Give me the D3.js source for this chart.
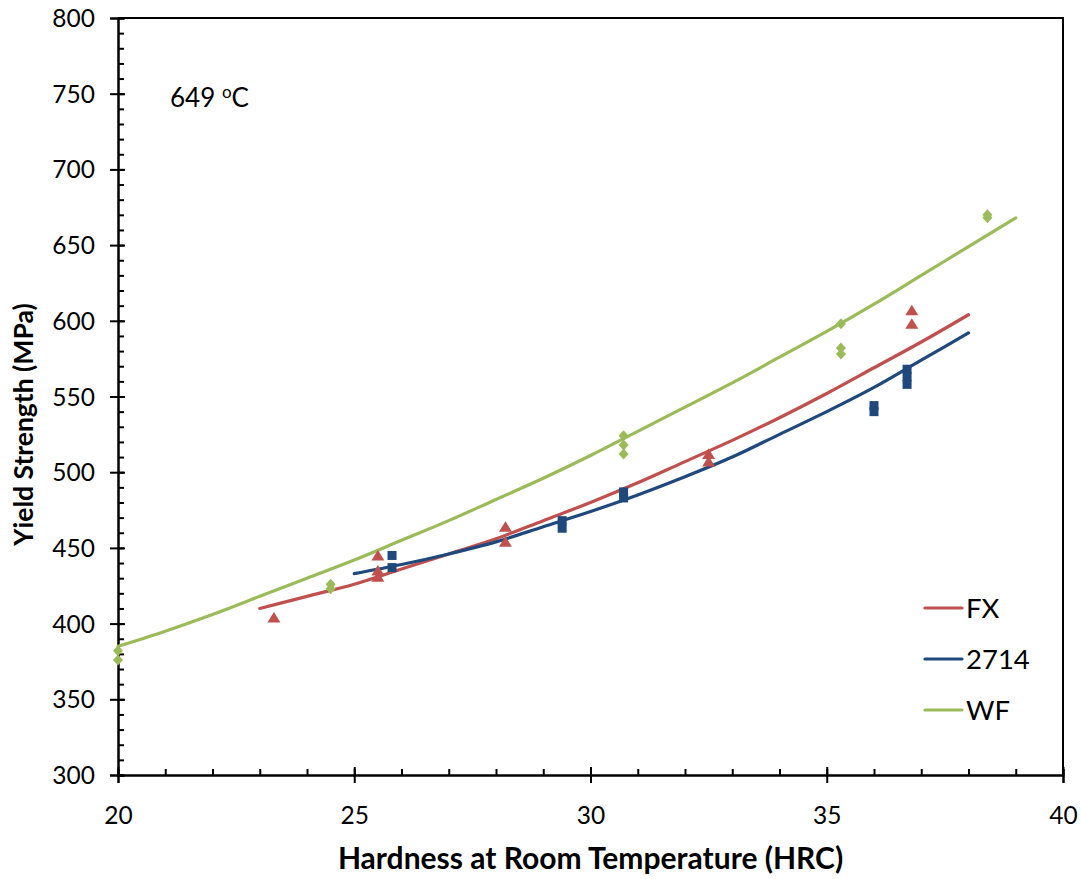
<!DOCTYPE html>
<html lang="en">
<head>
  <meta charset="utf-8">
  <title>Yield Strength vs Hardness at 649 oC</title>
  <script src="https://d3js.org/d3.v7.js"></script>
  <style>
    body { margin: 0; background: #fff; }
    text { font-family: Lato, "Open Sans", sans-serif; fill: #000; }
  </style>
</head>
<body>
  <div id="my_dataviz"></div>

  <script>
    // Trend curves (hardness HRC -> yield strength MPa)
    var fxX   = [23, 24, 25, 26, 27, 28, 29, 30, 31, 32, 33, 34, 35, 36, 37, 38];
    var fxY   = [410, 418, 426, 436, 446, 456, 468, 480, 493, 507, 521, 536, 552, 569, 586, 604];
    var t2714X = [25, 26, 27, 28, 29, 30, 31, 32, 33, 34, 35, 36, 37, 38];
    var t2714Y = [433, 439, 446, 454, 464, 474, 485, 497, 510, 525, 540, 556, 574, 592];
    var wfX   = [20, 21, 22, 23, 24, 25, 26, 27, 28, 29, 30, 31, 32, 33, 34, 35, 36, 37, 38, 39];
    var wfY   = [385, 395, 406, 418, 430, 442, 455, 468, 482, 496, 511, 527, 543, 559, 576, 593, 611, 630, 649, 668];

    // Measured points
    var fxPtsX   = [23.3, 25.5, 25.5, 25.5, 28.2, 28.2, 32.5, 32.5, 36.8, 36.8];
    var fxPtsY   = [404, 445, 435, 431, 464, 454, 512, 507, 607, 598];
    var p2714X   = [25.8, 25.8, 29.4, 29.4, 30.7, 30.7, 36.0, 36.0, 36.7, 36.7, 36.7];
    var p2714Y   = [445, 437, 468, 463, 487, 483, 544, 540, 568, 563, 558];
    var wfPtsX   = [20, 20, 24.5, 24.5, 30.7, 30.7, 30.7, 35.3, 35.3, 35.3, 38.4, 38.4];
    var wfPtsY   = [382, 376, 426, 423, 524, 518, 512, 598, 582, 578, 670, 668];

    var xTicks = [20, 25, 30, 35, 40];
    var yTicks = [300, 350, 400, 450, 500, 550, 600, 650, 700, 750, 800];
    var seriesNames = ["FX", "2714", "WF"];
    var colors = ["#C0504D", "#1F497D", "#9BBB59"];

    var margin = {top: 18, right: 18, bottom: 104, left: 118},
        width = 1081 - margin.left - margin.right,
        height = 879 - margin.top - margin.bottom;

    var svg = d3.select("#my_dataviz")
      .append("svg")
      .attr("width", 1081)
      .attr("height", 879)
      .append("g")
      .attr("transform", "translate(" + margin.left + "," + margin.top + ")");

    var x = d3.scaleLinear().domain([20, 40]).range([0, width]);
    var y = d3.scaleLinear().domain([300, 800]).range([height, 0]);

    // frame (top and right)
    svg.append("path")
      .attr("d", "M0,0H" + width + "V" + height)
      .attr("fill", "none").attr("stroke", "#000").attr("stroke-width", 2);

    // minor ticks (inside)
    var xAxisMinor = svg.append("g")
      .attr("transform", "translate(0," + height + ")")
      .call(d3.axisTop(x).tickValues(d3.range(20, 41, 1)).tickSize(6).tickFormat(""));
    var yAxisMinor = svg.append("g")
      .call(d3.axisRight(y).tickValues(d3.range(300, 801, 10)).tickSize(6).tickFormat(""));

    // major ticks crossing the axis + labels
    var xAxis = svg.append("g")
      .attr("transform", "translate(0," + height + ")")
      .call(d3.axisBottom(x).tickValues(xTicks).tickSize(8).tickPadding(24).tickFormat(d3.format("d")));
    xAxis.selectAll(".tick").append("line").attr("y2", -8).attr("stroke", "#000");

    var yAxis = svg.append("g")
      .call(d3.axisLeft(y).tickValues(yTicks).tickSize(8).tickPadding(15).tickFormat(d3.format("d")));
    yAxis.selectAll(".tick").append("line").attr("x2", 7).attr("stroke", "#000");

    [xAxisMinor, yAxisMinor, xAxis, yAxis].forEach(function(a) {
      a.select(".domain").attr("stroke", "#000").attr("stroke-width", 2);
      a.selectAll(".tick line").attr("stroke", "#000").attr("stroke-width", 2);
    });
    xAxis.selectAll("text").style("font-size", "24.5px").attr("fill", "#222");
    yAxis.selectAll("text").style("font-size", "24.5px").attr("fill", "#222").attr("dy", "0.35em");

    // curves
    var line = d3.line().x(function(d) { return x(d[0]); }).y(function(d) { return y(d[1]); })
      .curve(d3.curveMonotoneX);
    var curves = [d3.zip(fxX, fxY), d3.zip(t2714X, t2714Y), d3.zip(wfX, wfY)];
    curves.forEach(function(c, i) {
      svg.append("path")
        .datum(c)
        .attr("d", line)
        .attr("fill", "none")
        .attr("stroke", colors[i])
        .attr("stroke-width", 3.2)
        .attr("stroke-linecap", "round");
    });

    // markers
    svg.append("g").selectAll("path")
      .data(d3.zip(fxPtsX, fxPtsY))
      .enter().append("path")
      .attr("transform", function(d) { return "translate(" + x(d[0]) + "," + y(d[1]) + ")"; })
      .attr("d", "M0,-5.5L6.5,5L-6.5,5Z")
      .attr("fill", colors[0]);

    svg.append("g").selectAll("rect")
      .data(d3.zip(p2714X, p2714Y))
      .enter().append("rect")
      .attr("x", function(d) { return x(d[0]) - 4.5; })
      .attr("y", function(d) { return y(d[1]) - 4.5; })
      .attr("width", 9).attr("height", 9)
      .attr("fill", colors[1]);

    svg.append("g").selectAll("path")
      .data(d3.zip(wfPtsX, wfPtsY))
      .enter().append("path")
      .attr("transform", function(d) { return "translate(" + x(d[0]) + "," + y(d[1]) + ")"; })
      .attr("d", "M0,-5.5L5,0L0,5.5L-5,0Z")
      .attr("fill", colors[2]);

    // legend
    var legend = svg.append("g").attr("transform", "translate(807,590)");
    seriesNames.forEach(function(name, i) {
      var g = legend.append("g").attr("transform", "translate(0," + (i * 51) + ")");
      g.append("line").attr("x1", 0).attr("x2", 37).attr("y1", 0).attr("y2", 0)
        .attr("stroke", colors[i]).attr("stroke-width", 3.2).attr("stroke-linecap", "round");
      g.append("text").attr("x", 41).attr("y", 0).attr("dy", "0.36em")
        .style("font-size", "27.5px").text(name);
    });

    // annotation
    var ann = svg.append("text").attr("x", 52).attr("y", 89).style("font-size", "26px");
    ann.append("tspan").text("649 ");
    ann.append("tspan").attr("dy", -9).style("font-size", "17px").text("o");
    ann.append("tspan").attr("dy", 9).text("C");

    // axis titles
    svg.append("text")
      .attr("x", width / 2).attr("y", height + 94)
      .attr("text-anchor", "middle")
      .style("font-size", "30px").style("font-weight", "bold")
      .text("Hardness at Room Temperature (HRC)");

    svg.append("text")
      .attr("transform", "translate(-85," + (height / 2 + 28) + ") rotate(-90)")
      .attr("text-anchor", "middle")
      .style("font-size", "26.5px").style("font-weight", "bold")
      .text("Yield Strength (MPa)");
  </script>
</body>
</html>
